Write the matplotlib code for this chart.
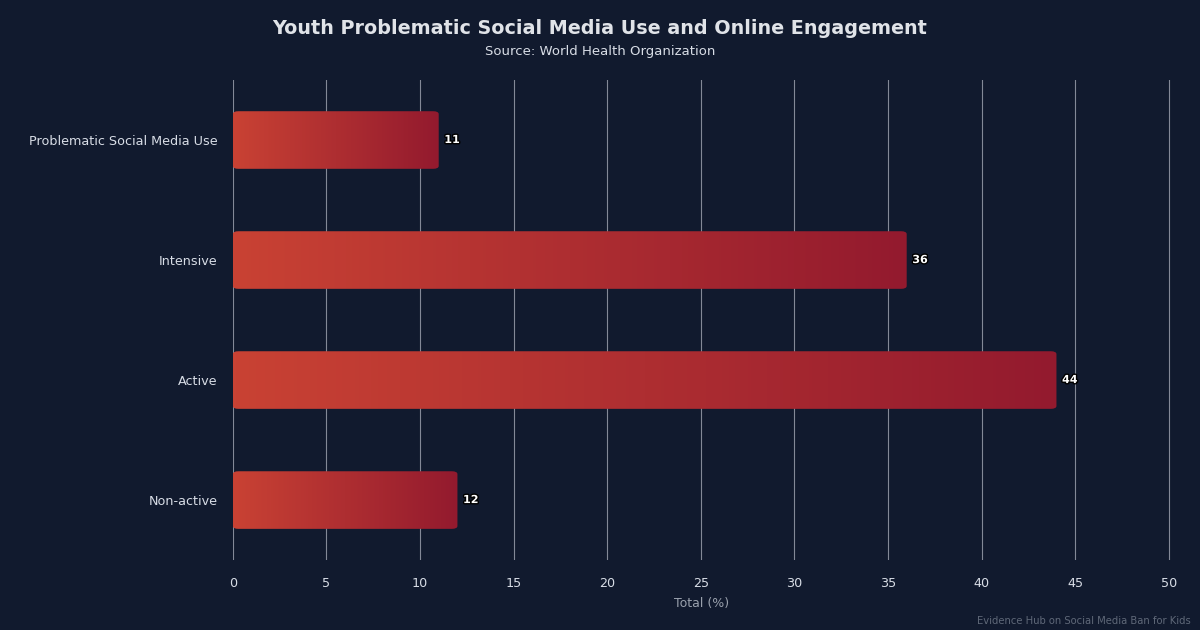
import numpy as np
import matplotlib.pyplot as plt
import matplotlib.patheffects as pe
from matplotlib.colors import LinearSegmentedColormap
from matplotlib.patches import FancyBboxPatch

categories = ["Non-active", "Active", "Intensive", "Problematic Social Media Use"]
values = [12, 44, 36, 11]
xticks = [0, 5, 10, 15, 20, 25, 30, 35, 40, 45, 50]

bg = "#111a2e"
cmap = LinearSegmentedColormap.from_list("bar", ["#c94234", "#931a2e"])

fig = plt.figure(figsize=(12, 6.3), dpi=100, facecolor=bg)
ax = fig.add_axes([0.194, 0.111, 0.782, 0.762])
ax.set_facecolor(bg)

bar_h = 0.48
grad = np.linspace(0, 1, 256).reshape(1, -1)
for i, v in enumerate(values):
    patch = FancyBboxPatch((0, i - bar_h / 2), v, bar_h,
                           boxstyle="round,pad=0,rounding_size=0.3",
                           mutation_aspect=0.08, facecolor="none",
                           edgecolor="none")
    ax.add_patch(patch)
    im = ax.imshow(grad, cmap=cmap, aspect="auto",
                   extent=(0, v, i - bar_h / 2, i + bar_h / 2), zorder=3)
    im.set_clip_path(patch)
    ax.text(v + 0.3, i, f"{v}", va="center", ha="left", fontsize=8,
            fontweight="bold", color="white", zorder=4,
            path_effects=[pe.withStroke(linewidth=2, foreground="black")])

ax.set_xlim(0, 50.13)
ax.set_ylim(-0.5, 3.5)
ax.set_yticks(range(len(categories)))
ax.set_yticklabels(categories)
ax.set_xticks(xticks)
ax.tick_params(axis="both", colors="#d8dde6", labelsize=9.2, length=0)
ax.tick_params(axis="x", pad=12)
ax.tick_params(axis="y", pad=11)
ax.grid(axis="x", color="#a0a6b2", linewidth=0.8, alpha=0.8, zorder=0)
ax.set_axisbelow(True)
for s in ax.spines.values():
    s.set_visible(False)

ax.set_xlabel("Total (%)", color="#9aa1ad", fontsize=9, labelpad=5)

fig.text(0.5, 0.955, "Youth Problematic Social Media Use and Online Engagement",
         ha="center", va="center", fontsize=13.8, fontweight="bold", color="#e0e3e8")
fig.text(0.5, 0.918, "Source: World Health Organization", ha="center",
         va="center", fontsize=9.5, color="#d8dde6")
fig.text(0.992, 0.014, "Evidence Hub on Social Media Ban for Kids", ha="right",
         va="center", fontsize=7.2, color="#5f6878")

fig.savefig("out.png", dpi=100, facecolor=bg)
